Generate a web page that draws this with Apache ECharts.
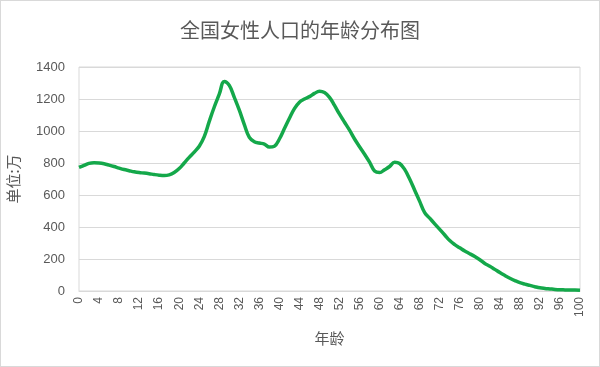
<!DOCTYPE html>
<html><head><meta charset="utf-8">
<script src="https://cdn.jsdelivr.net/npm/echarts@6/dist/echarts.min.js"></script>
<style>html,body{margin:0;padding:0;background:#fff}#c{width:600px;height:367px;box-sizing:border-box;border:1px solid #d9d9d9}</style>
</head><body><div id="c"></div>
<script>
const titleText = '全国女性人口的年龄分布图';
const yName = '单位:万';
const xName = '年龄';
const ages = Array.from({length: 101}, (_, i) => String(i));
const population = [
 772,785,798,802,800,795,787,778,768,759,
 752,745,740,737,733,728,724,722,726,740,
 765,800,835,868,905,965,1060,1150,1230,1310,
 1285,1210,1130,1040,960,933,925,918,900,905,
 950,1015,1080,1140,1180,1200,1215,1235,1248,1240,
 1210,1160,1105,1055,1005,950,902,855,805,750,
 740,758,778,805,797,760,700,630,560,490,
 455,420,385,350,315,290,270,250,233,215,
 195,172,155,135,115,97,80,65,52,43,
 35,27,20,16,13,10,8,7,6,6,
 5
];
const chart = echarts.init(document.getElementById('c'), null, {renderer: 'canvas'});
chart.setOption({
  animation: false,
  title: {text: titleText, left: 'center', top: 14,
    textStyle: {fontFamily: 'Noto Sans CJK SC', fontSize: 20, fontWeight: 'normal', color: '#595959'}},
  grid: {left: 78, right: 19, top: 66, bottom: 75, show: true, borderColor: '#d9d9d9', borderWidth: 1,
    outerBoundsMode: 'none', containLabel: false},
  xAxis: {type: 'category', data: ages, boundaryGap: false,
    name: xName, nameLocation: 'middle', nameGap: 40,
    nameTextStyle: {fontFamily: 'Noto Sans CJK SC', fontSize: 15, color: '#595959'},
    axisLine: {lineStyle: {color: '#d9d9d9'}}, axisTick: {show: false},
    axisLabel: {interval: 3, rotate: 90, fontFamily: 'Liberation Sans', fontSize: 12, color: '#595959', margin: 6}},
  yAxis: {type: 'value', min: 0, max: 1400, interval: 200,
    name: yName, nameLocation: 'middle', nameGap: 58,
    nameTextStyle: {fontFamily: 'Noto Sans CJK SC', fontSize: 15, color: '#595959'},
    axisLine: {show: false}, axisTick: {show: false},
    axisLabel: {fontFamily: 'Liberation Sans', fontSize: 13, color: '#595959', margin: 14,
      formatter: v => String(v)},
    splitLine: {lineStyle: {color: '#d9d9d9'}}},
  series: [{type: 'line', data: population, smooth: 0.4, symbol: 'none',
    lineStyle: {color: '#14a84a', width: 3.5}}]
});
</script></body></html>
